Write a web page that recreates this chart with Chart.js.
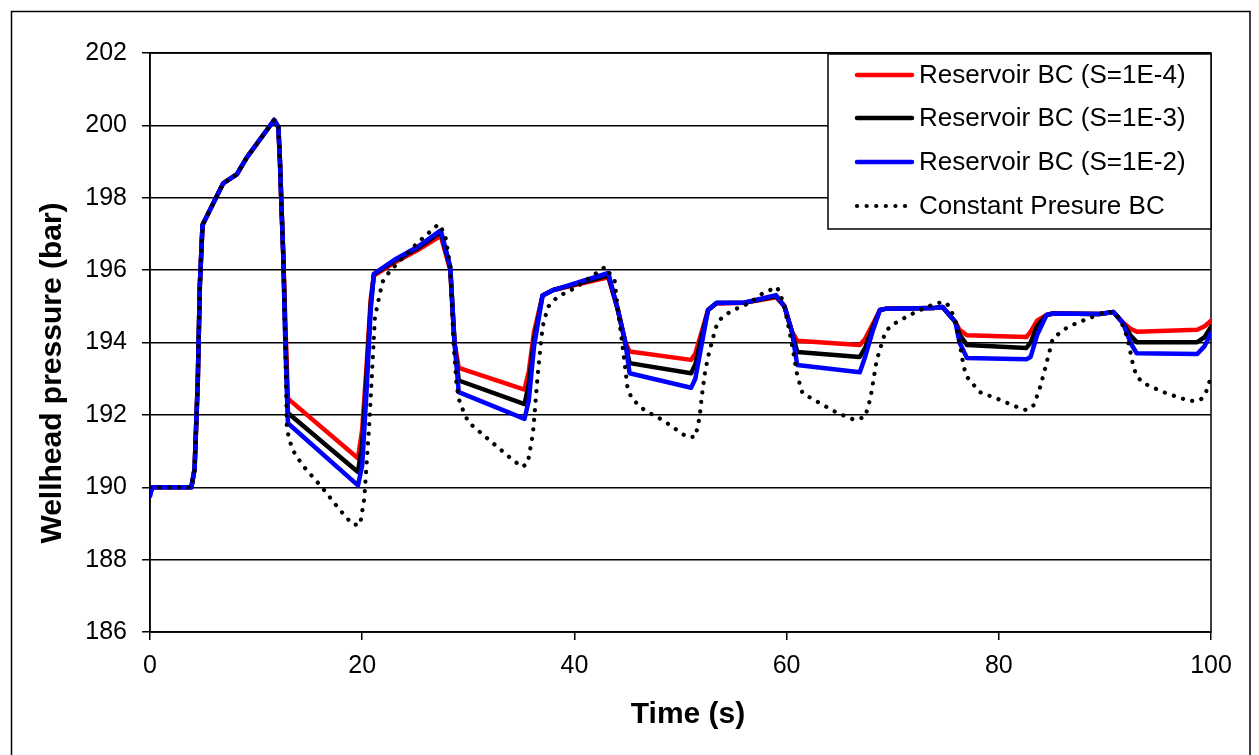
<!DOCTYPE html>
<html>
<head>
<meta charset="utf-8">
<script src="https://cdn.jsdelivr.net/npm/chart.js@4.4.1/dist/chart.umd.min.js"></script>
<style>
  html, body { margin: 0; padding: 0; background: #fff; }
  #wrap { width: 1259px; height: 755px; }
</style>
</head>
<body>
<div id="wrap"><canvas id="chart" width="1259" height="755"></canvas></div>
<script>
// time grid (s) shared by the three reservoir BC runs
const tRes = [0, 0.2, 3.9, 4.2, 4.5, 4.7, 4.95, 5.65, 6.9, 8.2,
  9.1, 11.7, 12.1, 12.25, 12.4, 12.55, 12.75, 13.0, 19.6, 20.0,
  20.4, 20.8, 21.1, 23.0, 25.2, 27.4, 28.3, 28.7, 29.1, 35.3,
  35.7, 36.2, 37.0, 38.0, 43.2, 44.1, 44.8, 45.2, 51.0, 51.4,
  51.9, 52.6, 53.4, 56.0, 59.0, 59.8, 60.5, 61.0, 66.9, 67.4,
  68.1, 68.8, 69.3, 73.8, 74.7, 75.9, 76.3, 77.0, 82.6, 83.0,
  83.6, 84.5, 85.1, 89.5, 90.8, 91.7, 92.4, 93.0, 98.7, 99.4,
  100];

const pS4 = [189.8, 190, 190, 190.5, 192.9, 195.6, 197.25, 197.66, 198.4, 198.65,
  199.1, 200.15, 199.95, 199.0, 197.7, 196.5, 194.6, 192.45, 190.8, 191.6,
  193.3, 195.2, 195.85, 196.2, 196.55, 196.95, 196.0, 194.0, 193.3, 192.7,
  193.2, 194.3, 195.3, 195.45, 195.8, 194.9, 194.0, 193.75, 193.52, 193.7,
  194.2, 194.9, 195.08, 195.1, 195.25, 195.0, 194.3, 194.05, 193.93, 194.1,
  194.5, 194.9, 194.93, 194.95, 194.98, 194.57, 194.35, 194.2, 194.15, 194.3,
  194.6, 194.76, 194.8, 194.79, 194.84, 194.55, 194.38, 194.3, 194.35, 194.45,
  194.6];

const pS3 = [189.8, 190, 190, 190.5, 192.9, 195.6, 197.25, 197.66, 198.4, 198.65,
  199.1, 200.15, 199.95, 199.0, 197.7, 196.5, 194.3, 192.05, 190.42, 191.2,
  193.0, 195.05, 195.88, 196.25, 196.6, 197.05, 196.05, 194.0, 192.95, 192.3,
  192.85, 194.1, 195.3, 195.45, 195.85, 194.9, 194.0, 193.43, 193.15, 193.4,
  194.05, 194.9, 195.09, 195.1, 195.28, 195.0, 194.3, 193.74, 193.6, 193.85,
  194.4, 194.9, 194.93, 194.95, 194.98, 194.57, 194.22, 193.93, 193.85, 194.0,
  194.45, 194.76, 194.8, 194.79, 194.84, 194.54, 194.2, 194.01, 194.01, 194.15,
  194.43];

const pS2 = [189.75, 190, 190, 190.5, 192.9, 195.6, 197.25, 197.66, 198.4, 198.65,
  199.1, 200.15, 199.95, 199.0, 197.7, 196.5, 194.0, 191.77, 190.05, 190.6,
  192.6, 194.9, 195.9, 196.28, 196.64, 197.1, 196.1, 194.0, 192.63, 191.89,
  192.4, 193.9, 195.3, 195.45, 195.92, 194.9, 194.0, 193.15, 192.75, 193.0,
  193.8, 194.9, 195.1, 195.1, 195.31, 195.0, 194.3, 193.38, 193.18, 193.6,
  194.3, 194.9, 194.93, 194.95, 194.98, 194.57, 194.0, 193.57, 193.54, 193.6,
  194.2, 194.76, 194.8, 194.79, 194.84, 194.54, 194.0, 193.7, 193.68, 193.9,
  194.26];

// constant pressure BC run has its own time grid
const tConst = [0, 3.9, 4.2, 4.5, 4.7, 4.95, 5.65, 6.9, 8.2, 9.1,
  11.7, 12.1, 12.25, 12.4, 12.55, 12.75, 12.9, 13.4, 14.4, 16.2,
  17.9, 19.1, 19.8, 20.2, 20.7, 21.2, 21.9, 22.6, 25.2, 27.2,
  27.8, 28.3, 28.6, 28.9, 29.2, 30.0, 32.8, 34.2, 35.1, 35.6,
  36.1, 36.6, 37.0, 37.5, 38.4, 40.2, 42.9, 43.8, 44.1, 44.5,
  45.0, 45.4, 46.6, 48.3, 50.6, 51.4, 51.8, 52.0, 52.3, 52.6,
  53.0, 53.5, 54.2, 55.0, 56.5, 57.8, 59.1, 59.5, 59.8, 60.3,
  60.6, 61.0, 61.5, 63.1, 64.8, 66.4, 67.4, 67.9, 68.5, 69.3,
  69.9, 71.6, 73.2, 74.2, 74.9, 75.4, 75.9, 76.2, 76.7, 77.0,
  78.2, 79.9, 81.7, 82.6, 83.3, 83.9, 84.4, 85.1, 86.5, 88.3,
  90.0, 90.9, 91.5, 92.1, 92.7, 93.0, 93.6, 95.5, 97.1, 98.0,
  99.0, 99.5, 99.8, 100];

const pConst = [190, 190, 190.5, 192.9, 195.6, 197.25, 197.66, 198.4, 198.65, 199.1,
  200.15, 199.95, 199.0, 197.7, 196.5, 194.0, 191.6, 191.05, 190.6, 190.0,
  189.37, 188.97, 188.96, 189.7, 191.9, 194.7, 195.67, 195.97, 196.75, 197.27,
  197.0, 196.1, 194.0, 192.8, 192.33, 191.8, 191.1, 190.75, 190.56, 190.67,
  191.5, 193.3, 194.43, 194.98, 195.26, 195.53, 196.09, 195.7, 194.9, 194.0,
  192.77, 192.45, 192.13, 191.86, 191.39, 191.39, 191.94, 192.5, 193.16, 193.6,
  194.07, 194.57, 194.76, 194.9, 195.09, 195.37, 195.53, 195.26, 194.98, 194.26,
  193.79, 193.1, 192.6, 192.33, 192.05, 191.86, 191.94, 192.46, 193.52, 194.29,
  194.48, 194.76, 194.98, 195.09, 195.12, 194.98, 194.57, 194.15, 193.32, 193.05,
  192.63, 192.44, 192.22, 192.13, 192.27, 192.77, 193.32, 194.12, 194.43, 194.65,
  194.84, 194.84, 194.6, 194.15, 193.32, 193.07, 192.88, 192.63, 192.47, 192.38,
  192.41, 192.6, 192.88, 193.0];

const seriesNames = ["Reservoir BC (S=1E-4)", "Reservoir BC (S=1E-3)", "Reservoir BC (S=1E-2)", "Constant Presure BC"];
const xTicks = [0, 20, 40, 60, 80, 100];
const yTicks = [186, 188, 190, 192, 194, 196, 198, 200, 202];

const FONT = "'Liberation Sans', Arial, sans-serif";

const pts = (ts, ps) => ts.map((t, i) => ({ x: t, y: ps[i] }));

const styleOf = [
  { color: "#ff0000", dash: [] },
  { color: "#000000", dash: [] },
  { color: "#0000ff", dash: [] },
  { color: "#000000", dash: [0.1, 9.5] }
];

// frame, plot box, legend and axis titles
const decor = {
  id: "decor",
  beforeDraw(chart) {
    const c = chart.ctx;
    c.save();
    c.fillStyle = "#fff";
    c.fillRect(0, 0, chart.width, chart.height);
    c.strokeStyle = "#000";
    c.lineWidth = 1.5;
    c.strokeRect(11.5, 11.5, 1238.5, 800);
    c.restore();
  },
  beforeDatasetsDraw(chart) {
    const a = chart.chartArea, c = chart.ctx;
    c.save();
    c.strokeStyle = "#000";
    c.lineWidth = 1.5;
    c.strokeRect(a.left, a.top, a.right - a.left, a.bottom - a.top);
    c.restore();
  },
  afterDraw(chart) {
    const c = chart.ctx, a = chart.chartArea;
    c.save();
    // legend box
    const lx = 828, ly = 54, lw = a.right - 828, lh = 175;
    c.fillStyle = "#fff";
    c.fillRect(lx, ly, lw, lh);
    c.strokeStyle = "#000";
    c.lineWidth = 1.5;
    c.strokeRect(lx, ly, lw, lh);
    const rows = [75, 118, 162, 206];
    c.font = "26px " + FONT;
    c.textBaseline = "middle";
    c.textAlign = "left";
    seriesNames.forEach((name, i) => {
      const st = styleOf[i];
      c.beginPath();
      c.strokeStyle = st.color;
      c.lineCap = "round";
      if (i < 3) {
        c.lineWidth = 4.5;
        c.setLineDash([]);
        c.moveTo(857, rows[i]);
        c.lineTo(912, rows[i]);
      } else {
        c.lineWidth = 4.2;
        c.setLineDash(st.dash);
        c.moveTo(857, rows[i]);
        c.lineTo(906, rows[i]);
      }
      c.stroke();
      c.setLineDash([]);
      c.fillStyle = "#000";
      c.fillText(name, 919, rows[i] + 1);
    });
    // axis titles
    c.font = "bold 30px " + FONT;
    c.textAlign = "center";
    c.textBaseline = "middle";
    c.fillText("Time (s)", 688, 715);
    c.translate(53, 373);
    c.rotate(-Math.PI / 2);
    c.fillText("Wellhead pressure (bar)", 0, 0);
    c.restore();
  }
};

const datasets = [
  { label: seriesNames[0], data: pts(tRes, pS4), order: 3 },
  { label: seriesNames[1], data: pts(tRes, pS3), order: 2 },
  { label: seriesNames[2], data: pts(tRes, pS2), order: 1 },
  { label: seriesNames[3], data: pts(tConst, pConst), order: 0 }
].map((d, i) => Object.assign(d, {
  borderColor: styleOf[i].color,
  borderWidth: i < 3 ? 4.5 : 4.2,
  borderDash: styleOf[i].dash,
  borderCapStyle: "round",
  borderJoinStyle: "round",
  pointRadius: 0,
  fill: false,
  tension: 0
}));

new Chart(document.getElementById("chart"), {
  type: "line",
  data: { datasets: datasets },
  options: {
    responsive: false,
    animation: false,
    layout: { padding: { left: 0, right: 48, top: 53, bottom: 0 } },
    plugins: { legend: { display: false }, tooltip: { enabled: false } },
    scales: {
      x: {
        type: "linear",
        min: 0,
        max: 100,
        afterFit(s) { s.height = 123; },
        afterBuildTicks(s) { s.ticks = xTicks.map(v => ({ value: v })); },
        grid: { drawOnChartArea: false, drawTicks: true, tickLength: 8, color: "#000", lineWidth: 1.5 },
        border: { display: true, color: "#000", width: 1.5 },
        ticks: { color: "#000", font: { family: FONT, size: 25 }, padding: 11, maxRotation: 0 }
      },
      y: {
        min: 186,
        max: 202,
        afterFit(s) { s.width = 150; },
        afterBuildTicks(s) { s.ticks = yTicks.map(v => ({ value: v })); },
        grid: { drawOnChartArea: true, drawTicks: true, tickLength: 8, color: "#000", lineWidth: 1.5 },
        border: { display: true, color: "#000", width: 1.5 },
        ticks: { color: "#000", font: { family: FONT, size: 25 }, padding: 15 }
      }
    }
  },
  plugins: [decor]
});
</script>
</body>
</html>
